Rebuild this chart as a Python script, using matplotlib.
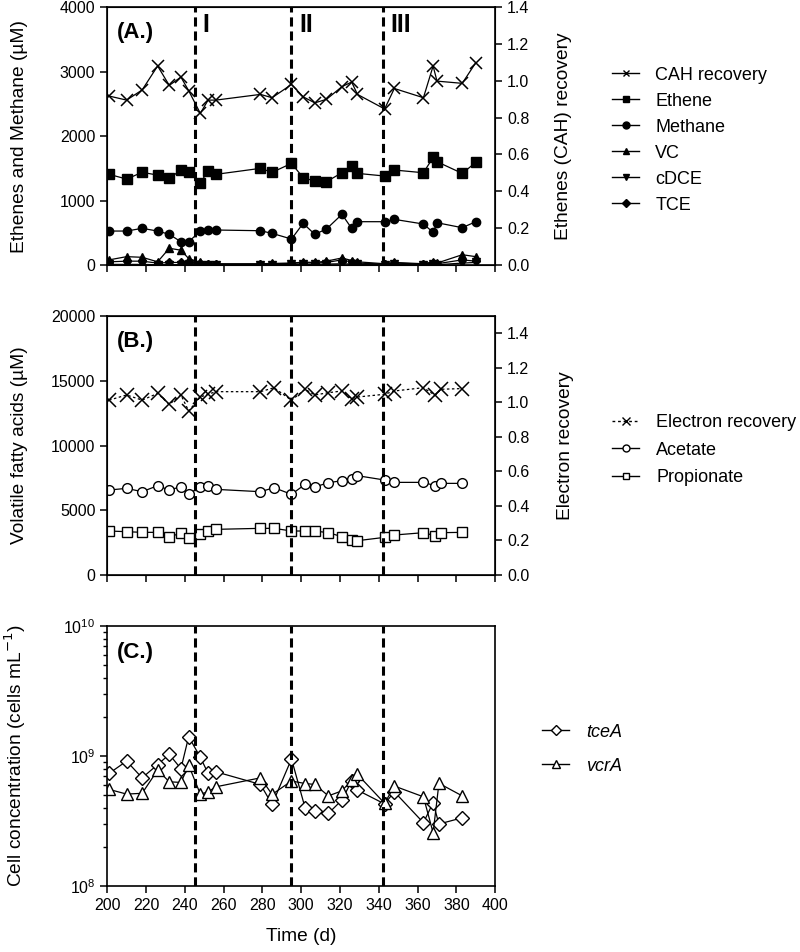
import matplotlib
matplotlib.use("Agg")
import matplotlib.pyplot as plt
from matplotlib.lines import Line2D
import matplotlib.transforms as mtransforms
from matplotlib.ticker import MultipleLocator, FormatStrFormatter, LogLocator, NullFormatter

plt.rcParams['font.family'] = ['Liberation Sans', 'DejaVu Sans']

# ---------------- data ----------------
days_a = [201, 210, 218, 226, 232, 238, 242, 248, 252, 256, 279, 285, 295, 301, 307,
          313, 321, 326, 329, 343, 348, 363, 368, 370, 383, 390]
cah_recovery = [0.917, 0.895, 0.95, 1.08, 0.975, 1.02, 0.946, 0.823, 0.895, 0.895, 0.926,
                0.908, 0.98, 0.913, 0.88, 0.899, 0.968, 0.993, 0.926, 0.847, 0.958, 0.908,
                1.08, 0.998, 0.986, 1.098]
ethene = [1406, 1333, 1437, 1395, 1344, 1473, 1437, 1276, 1457, 1406, 1499, 1437, 1576,
          1354, 1302, 1292, 1431, 1540, 1421, 1380, 1473, 1431, 1669, 1602, 1421, 1592]
methane = [527, 527, 569, 527, 476, 361, 361, 527, 543, 543, 532, 491, 403, 646, 476, 558,
           786, 569, 672, 672, 708, 636, 507, 656, 579, 672]
vc = [80, 130, 120, 50, 260, 230, 100, 40, 20, 15, 20, 25, 30, 45, 40, 60, 110, 70, 50,
      20, 40, 20, 50, 30, 160, 130]
cdce = [10, 10, 10, 5, 5, 5, 10, 5, 5, 5, 5, 5, 10, 10, 10, 15, 20, 15, 10, 5, 10, 5, 10,
        5, 30, 40]
tce = [50, 60, 60, 30, 40, 40, 50, 30, 20, 20, 15, 20, 25, 35, 30, 40, 80, 45, 30, 15, 30,
       15, 30, 20, 80, 60]

days_b = [201, 210, 218, 226, 232, 238, 242, 248, 252, 256, 279, 286, 295, 302, 307, 314,
          321, 326, 329, 343, 348, 363, 369, 372, 383]
electron_recovery = [1.013, 1.043, 1.013, 1.052, 0.988, 1.043, 0.95, 1.031, 1.047, 1.062,
                     1.062, 1.085, 1.012, 1.076, 1.043, 1.056, 1.066, 1.022, 1.031, 1.047,
                     1.066, 1.085, 1.041, 1.076, 1.08]
acetate = [6564, 6693, 6435, 6898, 6564, 6821, 6255, 6821, 6873, 6615, 6435, 6744, 6229,
           7005, 6800, 7129, 7285, 7413, 7670, 7336, 7155, 7155, 6898, 7078, 7078]
propionate = [3398, 3346, 3295, 3295, 2960, 3218, 2831, 3140, 3424, 3527, 3604, 3604, 3398,
              3398, 3398, 3269, 2960, 2703, 2651, 2908, 3089, 3269, 3037, 3269, 3295]

days_c = [201, 210, 218, 226, 232, 238, 242, 248, 252, 256, 279, 285, 295, 302, 307, 314,
          321, 326, 329, 343, 348, 363, 368, 371, 383]
tcea = [7.36e8, 9.15e8, 6.8e8, 8.6e8, 1.03e9, 8.0e8, 1.41e9, 9.8e8, 7.36e8, 7.57e8, 6.05e8,
        4.25e8, 9.5e8, 4.0e8, 3.75e8, 3.62e8, 4.59e8, 6.43e8, 5.47e8, 4.28e8, 5.31e8,
        3.07e8, 4.38e8, 3.0e8, 3.35e8]
vcra = [5.54e8, 5.1e8, 5.17e8, 7.8e8, 6.34e8, 6.27e8, 8.5e8, 5.1e8, 5.3e8, 5.8e8, 6.8e8,
        5.07e8, 6.43e8, 6.15e8, 6.05e8, 4.94e8, 5.4e8, 6.53e8, 7.23e8, 4.33e8, 5.88e8,
        4.86e8, 2.57e8, 6.17e8, 4.94e8]

phase_days = [245, 295, 342]
phase_labels = ['I', 'II', 'III']

# ---------------- figure ----------------
fig = plt.figure(figsize=(8, 9.52), dpi=100)
L, W = 0.134, 0.485
axA = fig.add_axes([L, 0.7216, W, 0.271])
axB = fig.add_axes([L, 0.396, W, 0.272])
axC = fig.add_axes([L, 0.0693, W, 0.273])

TICK_FS = 11.5
LAB_FS = 13.8
LEG_FS = 13

def style_axis(ax):
    ax.set_xlim(200, 400)
    ax.xaxis.set_major_locator(MultipleLocator(20))
    ax.tick_params(direction='out', length=5, width=1.1, labelsize=TICK_FS)
    for s in ax.spines.values():
        s.set_linewidth(1.2)

lw = 0.9
# ---- Panel A ----
style_axis(axA)
axA.set_ylim(0, 4000)
axA.yaxis.set_major_locator(MultipleLocator(1000))
axA.tick_params(axis='x', labelbottom=False)
axA.plot(days_a, ethene, color='black', lw=lw, marker='s', ms=6.5)
axA.plot(days_a, methane, color='black', lw=lw, marker='o', ms=6)
axA.plot(days_a, vc, color='black', lw=lw, marker='^', ms=5.5)
axA.plot(days_a, cdce, color='black', lw=lw, marker='v', ms=5.5)
axA.plot(days_a, tce, color='black', lw=lw, marker='D', ms=4.5)
axA.set_ylabel('Ethenes and Methane (µM)', fontsize=LAB_FS)
axA2 = axA.twinx()
axA2.set_ylim(0, 1.4)
axA2.yaxis.set_major_locator(MultipleLocator(0.2))
axA2.yaxis.set_major_formatter(FormatStrFormatter('%.1f'))
axA2.tick_params(direction='out', length=5, width=1.1, labelsize=TICK_FS)
axA2.plot(days_a, cah_recovery, color='black', lw=lw, marker='x', ms=8.5, mew=1.1)
axA2.set_ylabel('Ethenes (CAH) recovery', fontsize=LAB_FS)

# ---- Panel B ----
style_axis(axB)
axB.set_ylim(0, 20000)
axB.yaxis.set_major_locator(MultipleLocator(5000))
axB.tick_params(axis='x', labelbottom=False)
axB.plot(days_b, acetate, color='black', lw=lw, marker='o', ms=7, mfc='white', mew=1.0)
axB.plot(days_b, propionate, color='black', lw=lw, marker='s', ms=7, mfc='white', mew=1.0)
axB.set_ylabel('Volatile fatty acids (µM)', fontsize=LAB_FS)
axB2 = axB.twinx()
axB2.set_ylim(0, 1.5)
axB2.set_yticks([0, 0.2, 0.4, 0.6, 0.8, 1.0, 1.2, 1.4])
axB2.yaxis.set_major_formatter(FormatStrFormatter('%.1f'))
axB2.tick_params(direction='out', length=5, width=1.1, labelsize=TICK_FS)
axB2.plot(days_b, electron_recovery, color='black', lw=lw, ls=(0, (2, 2)), marker='x',
          ms=9.5, mew=1.1)
axB2.set_ylabel('Electron recovery', fontsize=LAB_FS)

# ---- Panel C ----
style_axis(axC)
axC.set_yscale('log')
axC.set_ylim(1e8, 1e10)
axC.yaxis.set_major_locator(LogLocator(base=10))
axC.yaxis.set_minor_locator(LogLocator(base=10, subs=range(2, 10)))
axC.yaxis.set_minor_formatter(NullFormatter())
axC.tick_params(axis='y', which='minor', direction='out', length=3, width=1)
axC.plot(days_c, tcea, color='black', lw=lw, marker='D', ms=7, mfc='white', mew=1.0)
axC.plot(days_c, vcra, color='black', lw=lw, marker='^', ms=9, mfc='white', mew=1.0)
axC.set_ylabel('Cell concentration (cells mL$^{-1}$)', fontsize=LAB_FS)
axC.set_xlabel('Time (d)', fontsize=LAB_FS, labelpad=11)

# phase lines and labels
for ax in (axA, axB, axC):
    for d in phase_days:
        ax.axvline(d, color='black', lw=2.2, ls=(0, (3, 1.6)), zorder=5)
    ax.yaxis.set_label_coords(-0.204, 0.5)
axA2.yaxis.set_label_coords(1.155, 0.5)
axB2.yaxis.set_label_coords(1.16, 0.5)

trA = mtransforms.blended_transform_factory(axA.transData, axA.transAxes)
for d, lab in zip(phase_days, phase_labels):
    axA.text(d + 4.2, 0.93, lab, transform=trA, fontsize=18, fontweight='bold',
             ha='left', va='center')

for ax, lab in zip((axA, axB, axC), ('(A.)', '(B.)', '(C.)')):
    ax.text(0.025, 0.90, lab, transform=ax.transAxes, fontsize=16, fontweight='bold',
            ha='left', va='center')

# legends
hA = [Line2D([], [], color='black', lw=1, marker='x', ms=5, mew=1),
      Line2D([], [], color='black', lw=1, marker='s', ms=5),
      Line2D([], [], color='black', lw=1, marker='o', ms=5),
      Line2D([], [], color='black', lw=1, marker='^', ms=5),
      Line2D([], [], color='black', lw=1, marker='v', ms=5),
      Line2D([], [], color='black', lw=1, marker='D', ms=4)]
fig.legend(hA, ['CAH recovery', 'Ethene', 'Methane', 'VC', 'cDCE', 'TCE'],
           loc='upper left', bbox_to_anchor=(0.765, 0.930), frameon=False,
           fontsize=LEG_FS, handlelength=1.5, handletextpad=0.9, labelspacing=0.5,
           borderpad=0, borderaxespad=0)
hB = [Line2D([], [], color='black', lw=1, ls=(0, (2, 2)), marker='x', ms=6, mew=1),
      Line2D([], [], color='black', lw=1, marker='o', ms=5, mfc='white'),
      Line2D([], [], color='black', lw=1, marker='s', ms=5, mfc='white')]
fig.legend(hB, ['Electron recovery', 'Acetate', 'Propionate'],
           loc='upper left', bbox_to_anchor=(0.765, 0.565), frameon=False,
           fontsize=LEG_FS, handlelength=1.5, handletextpad=0.95, labelspacing=0.58,
           borderpad=0, borderaxespad=0)
hC = [Line2D([], [], color='black', lw=1, marker='D', ms=5, mfc='white'),
      Line2D([], [], color='black', lw=1, marker='^', ms=6, mfc='white')]
legC = fig.legend(hC, ['tceA', 'vcrA'],
                  loc='upper left', bbox_to_anchor=(0.678, 0.240), frameon=False,
                  fontsize=LEG_FS, handlelength=1.5, handletextpad=0.9, labelspacing=0.95,
                  borderpad=0, borderaxespad=0)
for t in legC.get_texts():
    t.set_fontstyle('italic')

fig.savefig('out.png', dpi=100)
